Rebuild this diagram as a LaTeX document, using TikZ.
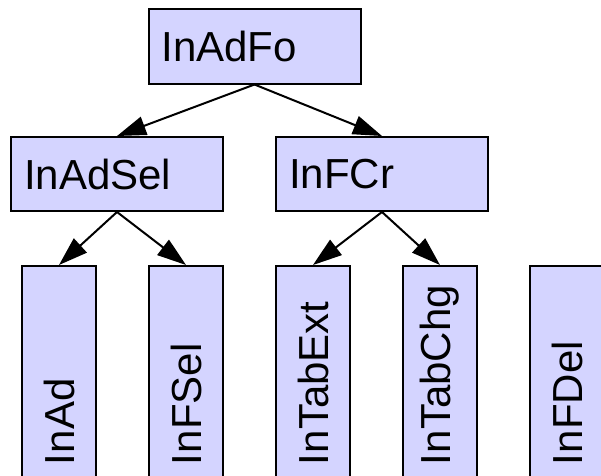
\documentclass[tikz,border=0pt]{standalone}
\usepackage{fontspec}
\setmainfont{Liberation Sans}
\usetikzlibrary{arrows.meta}
\definecolor{boxfill}{RGB}{212,212,255}
\begin{document}
\begin{tikzpicture}[x=1pt,y=1pt,
  box/.style={draw=black, line width=2pt, fill=boxfill, rectangle,
    minimum width=212pt, minimum height=74pt, text width=186pt,
    inner xsep=13pt, inner ysep=0pt, align=left,
    font=\fontsize{42pt}{50pt}\selectfont},
  vbox/.style={box, rotate=90},
  link/.style={line width=2pt, -{Triangle[length=29pt,width=19pt]}}]
\useasboundingbox (0,0) rectangle (601,475);

% top level
\node[box] (fo) at (254.5,428.5) {InAdFo};

% second level
\node[box] (sel) at (117,301) {InAdSel};
\node[box] (fcr) at (382,301) {InFCr};

% leaves, set upright
\node[vbox] (ad)   at (59,103)  {InAd};
\node[vbox] (fsel) at (186,103) {InFSel};
\node[vbox] (ext)  at (313,103) {InTabExt};
\node[vbox] (chg)  at (440,103) {InTabChg};
\node[vbox] (fdel) at (567,103) {InFDel};

% connectors
\draw[link] (fo.south) -- (sel.north);
\draw[link] (fo.south) -- (fcr.north);
\draw[link] (sel.south) -- (ad.east);
\draw[link] (sel.south) -- (fsel.east);
\draw[link] (fcr.south) -- (ext.east);
\draw[link] (fcr.south) -- (chg.east);
\end{tikzpicture}
\end{document}
